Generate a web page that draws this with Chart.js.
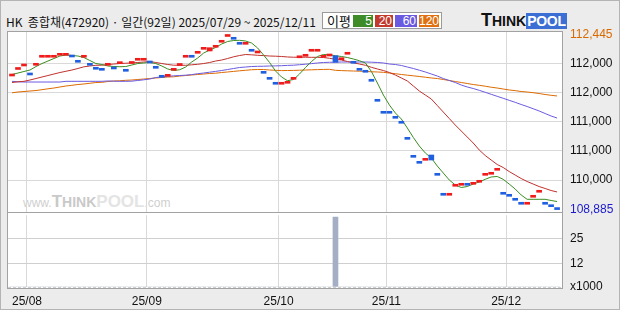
<!DOCTYPE html>
<html>
<head>
<meta charset="utf-8">
<script src="https://cdn.jsdelivr.net/npm/chart.js@4.4.1/dist/chart.umd.min.js"></script>
<style>
body{margin:0;background:#fff;}
#wrap{position:relative;width:620px;height:310px;background:#ececec;overflow:hidden;font-family:"Liberation Sans",Arial,sans-serif;}
.frame{position:absolute;left:0;top:0;width:620px;height:310px;box-sizing:border-box;border:1px solid #b4b4b4;pointer-events:none;}
.panel{position:absolute;left:7px;width:556px;box-sizing:border-box;background:#fff;border:1px solid #a2a2a2;}
#title{position:absolute;left:6px;top:13px;font:12px "Noto Sans CJK KR",sans-serif;color:#111;white-space:pre;}
#legend{position:absolute;left:322px;top:12px;width:120px;height:17px;box-sizing:border-box;background:#fff;border:1px solid #9a9a9a;}
#legend .lbl{position:absolute;left:4px;top:0;font:13px "Noto Sans CJK KR",sans-serif;line-height:15px;color:#111;}
#legend .sw{position:absolute;top:2px;height:12px;color:#fff;font:12px "Liberation Sans",Arial,sans-serif;line-height:12px;text-align:right;padding-right:1px;box-sizing:border-box;}
#logo{position:absolute;left:481px;top:12px;font-family:"Liberation Sans",Arial,sans-serif;font-weight:bold;white-space:nowrap;line-height:17px;}
#logo .big{font-size:18px;color:#111;}
#logo .sm{font-size:14px;color:#111;}
#logo .pool{font-size:14px;color:#fff;background:#3b6fd4;padding:0 1px;letter-spacing:-0.3px;}
#mark{position:absolute;left:23px;top:193px;font-family:"Liberation Sans",Arial,sans-serif;white-space:nowrap;color:#cfcfcf;line-height:17px;}
#mark .w{font-size:12px;}
#mark .b{font-size:17px;font-weight:bold;color:#c9c9c9;}
#mark .p{font-size:17px;font-weight:bold;color:#e4e4e4;}
canvas{position:absolute;left:0;}
</style>
</head>
<body>
<div id="wrap">
  <div class="panel" style="top:31px;height:182px;"></div>
  <div class="panel" style="top:212px;height:77px;"></div>
  <div id="mark"><span class="w">www.</span><span class="b">T</span><span class="b" style="font-size:14px">HINK</span><span class="p">POOL</span><span class="w">.com</span></div>
  <div id="title">HK  종합채(472920) · 일간(92일) 2025/07/29 ~ 2025/12/11</div>
  <div id="legend">
    <span class="lbl">이평</span>
    <span class="sw" style="left:30px;width:20px;background:#3d8c28;">5</span>
    <span class="sw" style="left:52px;width:18px;background:#c23a2e;">20</span>
    <span class="sw" style="left:72px;width:22px;background:#6a5ae0;">60</span>
    <span class="sw" style="left:96px;width:20px;background:#e07010;">120</span>
  </div>
  <div id="logo"><span class="big">T</span><span class="sm">HINK</span><span class="pool">POOL</span></div>
  <canvas id="price" width="620" height="230" style="top:0"></canvas>
  <canvas id="vol" width="620" height="110" style="top:200px"></canvas>
  <div class="frame"></div>
</div>
<script>
// 2025/07/29 ~ 2025/12/11, 92 trading days
const monthLabels = ["25/08", "25/09", "25/10", "25/11", "25/12"];
const monthStart = [3, 23, 45, 63, 83];

const opens = [
  111601,111734,111805,111662,111819,111982,111982,111982,112022,112022,
  112028,111920,111982,111859,111778,111757,111819,111784,111852,111737,
  111856,111921,111921,111906,111798,111615,111595,111717,111815,111982,
  112022,112063,112144,112110,112185,112287,112405,112388,112286,112246,
  112144,112069,111696,111574,111473,111433,111453,111534,111972,112002,
  112104,112104,111982,112008,112014,111933,112043,111900,111757,111717,
  111534,111127,110883,110883,110781,110680,110354,109988,109866,109887,
  109995,109622,109216,109176,109359,109379,109419,109399,109440,109582,
  109603,109684,109236,109195,109114,109033,108993,109135,109237,109033,
  108984,108925
];
const closes = [
  111641,111774,111845,111622,111859,112022,112022,112022,112062,112062,
  111988,111880,112022,111819,111738,111717,111859,111744,111892,111697,
  111896,111961,111961,111866,111758,111575,111635,111757,111855,112022,
  111982,112103,112184,112177,112225,112327,112445,112348,112246,112286,
  112104,112110,111656,111534,111433,111473,111493,111574,112012,112042,
  112144,112144,112022,112048,111880,111973,112083,111860,111717,111677,
  111494,111087,110843,110843,110741,110640,110314,109948,109826,109927,
  109893,109582,109176,109216,109399,109419,109379,109439,109480,109622,
  109643,109724,109196,109155,109074,108993,109033,109175,109277,108993,
  108944,108885
];
const ma5 = [
  111632,111662,111693,111723,111794,111855,111906,111957,112008,112028,
  112018,112008,111977,111916,111855,111835,111805,111794,111790,111794,
  111825,111855,111866,111876,111855,111805,111744,111713,111729,111784,
  111886,111967,112069,112130,112181,112252,112303,112323,112327,112313,
  112272,112171,112028,111876,111703,111581,111506,111530,111642,111774,
  111896,111998,112038,112034,112012,111998,111977,111947,111912,111866,
  111693,111459,111215,111012,110849,110727,110544,110351,110178,110036,
  109934,109771,109629,109487,109385,109334,109354,109405,109446,109501,
  109548,109558,109501,109405,109304,109182,109094,109094,109094,109094,
  109070,109049
];
const ma20 = [
  111469,111483,111493,111520,111550,111581,111611,111642,111672,111697,
  111723,111754,111788,111805,111819,111821,111835,111845,111855,111861,
  111866,111876,111886,111896,111876,111855,111835,111821,111819,111819,
  111829,111839,111855,111876,111906,111926,111957,111992,112018,112038,
  112032,112022,112016,112008,112004,111998,111988,111983,111983,111983,
  111981,111981,111977,111961,111941,111926,111896,111870,111845,111819,
  111778,111744,111713,111672,111621,111561,111500,111398,111296,111215,
  111134,111001,110869,110737,110605,110483,110361,110239,110097,109985,
  109893,109802,109741,109659,109588,109517,109456,109405,109354,109314,
  109273,109243
];
const ma60 = [
  111493,111483,111479,111479,111479,111479,111479,111479,111479,111493,
  111493,111493,111493,111493,111493,111493,111500,111496,111493,111493,
  111496,111510,111524,111540,111571,111581,111595,111605,111611,111618,
  111630,111648,111662,111679,111695,111713,111733,111754,111774,111784,
  111794,111798,111800,111805,111807,111811,111817,111821,111831,111841,
  111853,111866,111876,111880,111882,111886,111886,111886,111886,111886,
  111882,111876,111866,111845,111835,111815,111784,111754,111719,111683,
  111642,111601,111550,111510,111469,111418,111378,111347,111310,111270,
  111229,111188,111148,111107,111066,111022,110981,110936,110890,110839,
  110788,110747
];
const ma120 = [
  111260,111276,111286,111296,111306,111323,111341,111357,111378,111398,
  111412,111428,111439,111453,111469,111473,111489,111500,111504,111514,
  111520,111530,111540,111550,111561,111571,111581,111585,111601,111611,
  111622,111632,111642,111652,111658,111672,111683,111695,111707,111717,
  111729,111733,111733,111723,111717,111711,111713,111715,111719,111723,
  111727,111731,111735,111737,111717,111711,111707,111703,111699,111695,
  111687,111683,111676,111662,111648,111632,111618,111605,111591,111577,
  111561,111550,111530,111510,111489,111469,111449,111428,111412,111394,
  111373,111357,111337,111317,111304,111286,111276,111262,111245,111225,
  111209,111195
];
// volume, x1000
const volume = [
  0,0,0,0,0,0,0,0,0,0, 0,0,0,0,0,0,0,0,0,0,
  0,0,0,0,0,0,0,0,0,0, 0,0,0,0,0,0,0,0,0,0,
  0,0,0,0,0,0,0,0,0,0, 0,0,0,0,36,0,0,0,0,0,
  0,0,0,0,0,0,0,0,0,0, 0,0,0,0,0,0,0,0,0,0,
  0,0,0,0,0,0,0,0,0,0, 0,0
];

const priceTicks = [108885, 109485, 110080, 110670, 111265, 111860, 112445];
const priceTickLabels = ["108,885", "110,000", "111,000", "111,000", "112,000", "112,000", "112,445"];
const volTicks = [0, 12, 25];
const volTickLabels = ["x1000", "12", "25"];

Chart.defaults.font.family = "'Liberation Sans', Arial, sans-serif";
Chart.defaults.font.size = 12;
Chart.defaults.color = "#111";

const days = opens.map((_, i) => i);
const xMin = -0.67, xMax = 91.82;
const gridCol = "#d9d9d9";

function line(arr, color) {
  return {
    type: "line",
    data: days.map(i => ({x: i, y: arr[i]})),
    borderColor: color,
    borderWidth: 1,
    pointRadius: 0,
    tension: 0,
    order: 1
  };
}

new Chart(document.getElementById("price"), {
  type: "bar",
  data: {
    datasets: [
      {
        type: "bar",
        data: days.map(i => ({x: i, y: [opens[i], closes[i]]})),
        backgroundColor: ctx => {
          const i = ctx.dataIndex;
          return closes[i] >= opens[i] ? "#f01c1c" : "#1f5fe0";
        },
        barThickness: 5,
        minBarLength: 2,
        order: 0
      },
      line(ma5, "#3b8c22"),
      line(ma20, "#c0302c"),
      line(ma60, "#6a5ae0"),
      line(ma120, "#dd6a00")
    ]
  },
  options: {
    responsive: false,
    animation: false,
    layout: {padding: {left: 8, top: 32, right: 0, bottom: 18}},
    plugins: {legend: {display: false}, tooltip: {enabled: false}},
    scales: {
      x: {
        type: "linear",
        offset: false,
        min: xMin,
        max: xMax,
        afterBuildTicks: s => { s.ticks = monthStart.map(v => ({value: v - 0.5})); },
        afterFit: s => { s.height = 0; },
        ticks: {display: false},
        grid: {color: gridCol, drawTicks: false, offset: false},
        border: {display: false}
      },
      y: {
        position: "right",
        min: 108836,
        max: 112496,
        afterBuildTicks: s => { s.ticks = priceTicks.map(v => ({value: v})); },
        afterFit: s => { s.width = 58; },
        ticks: {
          padding: 8,
          callback: v => priceTickLabels[priceTicks.indexOf(v)],
          color: ctx => {
            const v = ctx.tick.value;
            if (v === 112445) return "#d86a00";
            if (v === 108885) return "#1a1acc";
            return "#111";
          }
        },
        grid: {
          drawTicks: false,
          color: ctx => (ctx.tick && (ctx.tick.value === 112445 || ctx.tick.value === 108885)) ? "rgba(0,0,0,0)" : gridCol
        },
        border: {display: false}
      }
    }
  }
});

new Chart(document.getElementById("vol"), {
  type: "bar",
  data: {
    datasets: [{
      data: days.map(i => ({x: i, y: volume[i]})),
      backgroundColor: "#a4aec4",
      barThickness: 5
    }]
  },
  options: {
    responsive: false,
    animation: false,
    layout: {padding: {left: 8, top: 13, right: 0, bottom: 0}},
    plugins: {legend: {display: false}, tooltip: {enabled: false}},
    scales: {
      x: {
        type: "linear",
        offset: false,
        min: xMin,
        max: xMax,
        afterBuildTicks: s => { s.ticks = monthStart.map(v => ({value: v - 0.5})); },
        afterFit: s => { s.height = 23; },
        ticks: {
          padding: 7,
          maxRotation: 0,
          autoSkip: false,
          callback: (v, i) => monthLabels[i]
        },
        grid: {color: gridCol, drawTicks: false, offset: false},
        border: {display: false}
      },
      y: {
        position: "right",
        min: 0,
        max: 37,
        afterBuildTicks: s => { s.ticks = volTicks.map(v => ({value: v})); },
        afterFit: s => { s.width = 58; },
        ticks: {
          padding: 8,
          callback: v => volTickLabels[volTicks.indexOf(v)]
        },
        grid: {color: "#cfcfcf", drawTicks: false},
        border: {
          display: false,
          dash: ctx => (ctx.tick && ctx.tick.value === 0) ? [3, 2] : []
        }
      }
    }
  }
});
</script>
</body>
</html>
